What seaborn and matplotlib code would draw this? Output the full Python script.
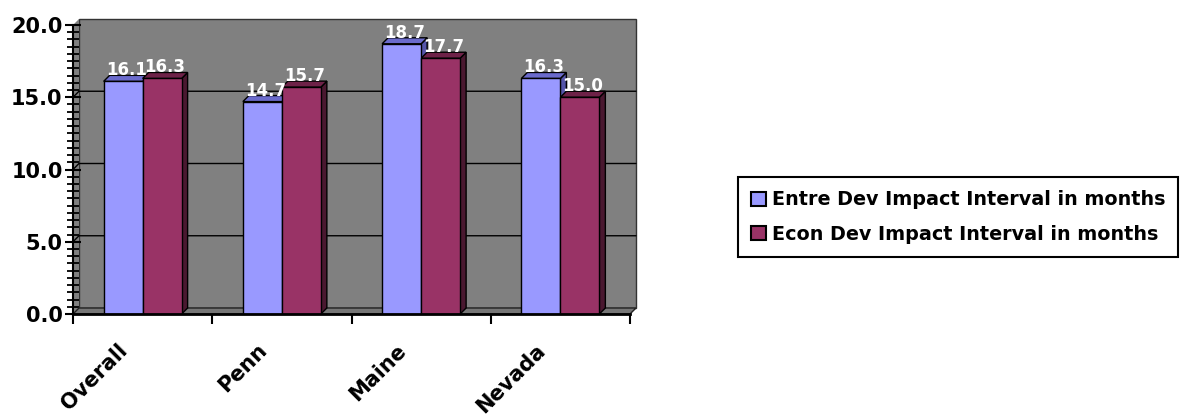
import numpy as np
import pandas as pd
import matplotlib
matplotlib.use("Agg")
import matplotlib.pyplot as plt
import seaborn as sns
from matplotlib.patches import Polygon
from matplotlib.ticker import MultipleLocator

categories = ["Overall", "Penn", "Maine", "Nevada"]
series_names = ["Entre Dev Impact Interval in months", "Econ Dev Impact Interval in months"]
entre_values = [16.1, 14.7, 18.7, 16.3]
econ_values = [16.3, 15.7, 17.7, 15.0]
y_ticks = [0, 5, 10, 15, 20]

colors = ["#9999FF", "#993366"]
top_colors = ["#6B6BCC", "#6E2248"]
side_colors = ["#5555AA", "#4A1830"]

sns.set_theme(style="white")
plt.rcParams["font.family"] = ["DejaVu Sans"]
plt.rcParams["text.color"] = "black"
plt.rcParams["xtick.color"] = "black"
plt.rcParams["ytick.color"] = "black"

df = pd.DataFrame({
    "cat": categories * 2,
    "val": entre_values + econ_values,
    "series": [series_names[0]] * 4 + [series_names[1]] * 4,
})

fig = plt.figure(figsize=(11.8, 4.16), dpi=100)
ax = fig.add_axes([73 / 1180, 1 - 314 / 416, (630 - 73) / 1180, (314 - 25) / 416])
ax.set_facecolor("none")

sns.barplot(data=df, x="cat", y="val", hue="series", palette=colors,
            edgecolor="black", linewidth=1.0, width=0.56, gap=0, ax=ax,
            saturation=1, legend=True, zorder=3)

ax.set_xlim(-0.5, 3.5)
ax.set_ylim(0, 20)
ax.set_xlabel("")
ax.set_ylabel("")

fig.canvas.draw()
depth = 6  # pixels
inv = ax.transData.inverted()


def to_data(pts):
    return inv.transform(np.array(pts))


# back wall (gray) offset by depth
x0d, y0d = ax.transData.transform((-0.5, 0))
x1d, y1d = ax.transData.transform((3.5, 20))
wall = Polygon(to_data([(x0d + depth, y0d + depth), (x1d + depth, y0d + depth),
                        (x1d + depth, y1d + depth), (x0d + depth, y1d + depth)]),
               closed=True, facecolor="#808080", edgecolor="#333333", lw=1.0, zorder=0,
               clip_on=False)
ax.add_patch(wall)
floor = Polygon(to_data([(x0d, y0d), (x1d, y0d), (x1d + depth, y0d + depth), (x0d + depth, y0d + depth)]),
                closed=True, facecolor="#767676", edgecolor="#222222", lw=1.0, zorder=1, clip_on=False)
ax.add_patch(floor)
side = Polygon(to_data([(x0d, y0d), (x0d + depth, y0d + depth), (x0d + depth, y1d + depth), (x0d, y1d)]),
               closed=True, facecolor="#808080", edgecolor="none", lw=0, zorder=0, clip_on=False)
ax.add_patch(side)

for v in y_ticks[1:-1]:
    xa, ya = ax.transData.transform((-0.5, v))
    xb, yb = ax.transData.transform((3.5, v))
    pts = to_data([(xa, ya), (xa + depth, ya + depth), (xb + depth, yb + depth)])
    ax.plot(pts[:, 0], pts[:, 1], color="black", lw=1.0, zorder=1.5, clip_on=False)

# 3D bar faces and labels
for i, container in enumerate(ax.containers):
    vals = entre_values if i == 0 else econ_values
    for patch, v in zip(container.patches, vals):
        bx, by = patch.get_x(), patch.get_y()
        bw, bh = patch.get_width(), patch.get_height()
        (px0, py0) = ax.transData.transform((bx, by))
        (px1, py1) = ax.transData.transform((bx + bw, by + bh))
        top = Polygon(to_data([(px0, py1), (px1, py1), (px1 + depth, py1 + depth), (px0 + depth, py1 + depth)]),
                      closed=True, facecolor=top_colors[i], edgecolor="black", lw=1.0, zorder=2.5,
                      clip_on=False)
        sd = Polygon(to_data([(px1, py0), (px1 + depth, py0 + depth), (px1 + depth, py1 + depth), (px1, py1)]),
                     closed=True, facecolor=side_colors[i], edgecolor="black", lw=1.0, zorder=2.5 - i * 0.1,
                     clip_on=False)
        ax.add_patch(sd)
        ax.add_patch(top)
        lx, ly = to_data([((px0 + px1) / 2 + depth / 2, py1 + 2)])[0]
        ax.text(lx, ly, f"{v:.1f}", color="white", fontsize=12, fontweight="bold",
                ha="center", va="bottom", zorder=5)

# axes styling
for s in ["top", "right"]:
    ax.spines[s].set_visible(False)
ax.spines["left"].set_color("black")
ax.spines["left"].set_linewidth(1.5)
ax.spines["bottom"].set_color("black")
ax.spines["bottom"].set_linewidth(2)
ax.spines["left"].set_zorder(4)
ax.spines["bottom"].set_zorder(4)

ax.set_yticks(y_ticks)
ax.set_yticklabels([f"{t:.1f}" for t in y_ticks], fontsize=15, fontweight="bold", color="black")
ax.yaxis.set_minor_locator(MultipleLocator(0.5))
ax.tick_params(axis="y", which="major", left=True, direction="inout", length=11, width=1.5,
               color="black", pad=2)
ax.tick_params(axis="y", which="minor", left=True, direction="inout", length=9, width=1.3,
               color="black")

ax.set_xticks(np.arange(-0.5, 4.0, 1.0), minor=False)
ax.set_xticklabels([""] * 5)
ax.tick_params(axis="x", which="major", bottom=True, length=7, width=1.5, color="black")
for k, c in enumerate(categories):
    ax.text(k - 0.18, -1.8, c, rotation=45, ha="right", va="top", rotation_mode="anchor",
            fontsize=15, fontweight="bold", color="black")

ax.get_legend().remove()
handles = [plt.Rectangle((0, 0), 1, 1, facecolor=colors[j], edgecolor="black", lw=1.5) for j in range(2)]
leg = fig.legend(handles, series_names, loc="center left", bbox_to_anchor=(738 / 1180, 1 - 217 / 416),
                 frameon=True, fancybox=False, edgecolor="black", framealpha=1,
                 prop={"weight": "bold", "size": 13.8}, handlelength=0.75, handleheight=0.75,
                 handletextpad=0.3, borderpad=0.7, labelspacing=0.8, borderaxespad=0)
for t in leg.get_texts():
    t.set_color("black")
leg.get_frame().set_linewidth(1.5)

fig.savefig("out.png", dpi=100)
